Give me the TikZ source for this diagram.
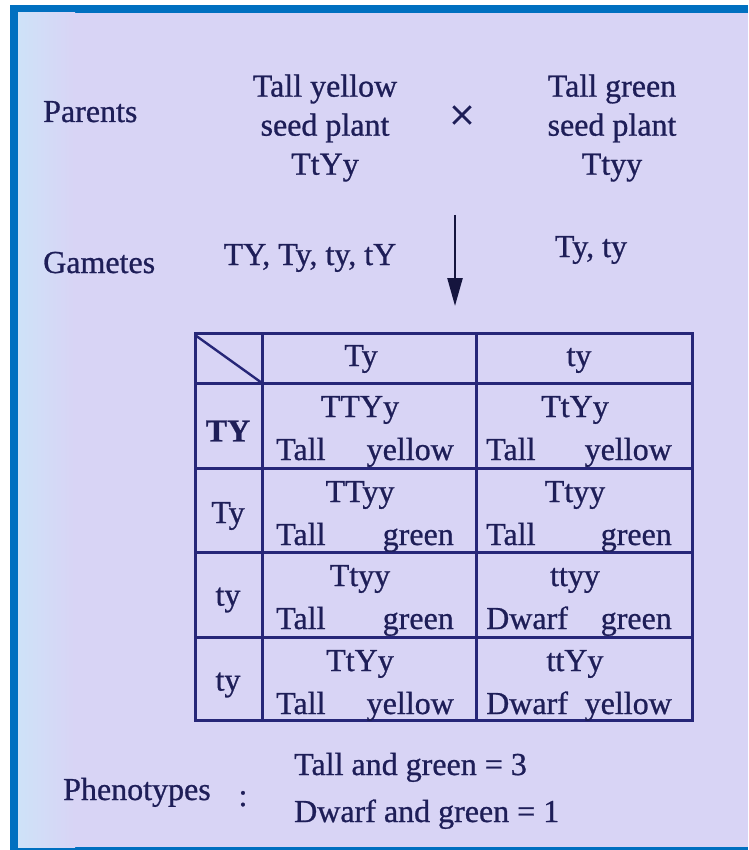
\documentclass[tikz,border=0pt]{standalone}
\usepackage{fontspec}
\setmainfont{Liberation Serif}[FakeBold=0.8]
\usetikzlibrary{arrows.meta, positioning}
\definecolor{slidebg}{RGB}{216,212,245}
\definecolor{slideleft}{RGB}{206,226,248}
\definecolor{slideframe}{RGB}{0,112,192}
\definecolor{inkblue}{RGB}{30,30,88}
\definecolor{gridblue}{RGB}{38,38,120}

\begin{document}
\begin{tikzpicture}[x=1pt, y=-1pt,
  every node/.style={font=\fontsize{32}{39}\selectfont, text=inkblue, inner sep=0pt},
  punnett/.style={draw=gridblue, line width=3pt}]
  % slide background
  \useasboundingbox (0,0) rectangle (748,850);
  \fill[white] (0,0) rectangle (748,850);
  \fill[slideframe] (10,5) rectangle (748,850);
  \fill[slidebg] (18,13) rectangle (748,847);
  \shade[left color=slideleft, right color=slidebg] (18,13) rectangle (75,847);

  % parents
  \node[anchor=base west] (parents) at (43,122) {Parents};
  \node[align=center] (yellowparent) at (325,128) {Tall yellow\\seed plant\\TtYy};
  \node[font=\fontsize{46}{46}\selectfont] (cross) at (462,118) {×};
  \node[align=center] (greenparent) at (612,128) {Tall green\\seed plant\\Ttyy};

  % gametes
  \node[anchor=base west] (gametes) at (43,273) {Gametes};
  \node[anchor=base] (gamyellow) at (310,265) {TY, Ty, ty, tY};
  \node[anchor=base] (gamgreen) at (591,257) {Ty, ty};
  \coordinate (arrtop) at (455,215);
  \coordinate (arrbot) at (455,306);
  \draw[-{Triangle[length=28pt,width=15pt]}, line width=2.4pt, inkblue!70!black] (arrtop) -- (arrbot);

  % checkerboard
  \draw[punnett] (195,333) rectangle (692,720);
  \draw[punnett] (262,333) -- (262,720);
  \draw[punnett] (476,333) -- (476,720);
  \foreach \y in {383,468,552,637}
    \draw[punnett] (195,\y) -- (692,\y);
  \draw[gridblue, line width=2.4pt] (195,335) -- (262,383);
  \node[anchor=base] (headTy) at (361,366) {Ty};
  \node[anchor=base] (headty) at (579,366) {ty};

  \foreach \n/\yt/\lab/\ga/\la/\ra/\gb/\lb/\rb in {
    1/383/{\textbf{TY}}/TTYy/Tall/yellow/TtYy/Tall/yellow,
    2/468/Ty/TTyy/Tall/green/Ttyy/Tall/green,
    3/552/ty/Ttyy/Tall/green/ttyy/Dwarf/green,
    4/637/ty/TtYy/Tall/yellow/ttYy/Dwarf/yellow}{
    \node (lab\n) at (228,\yt+48) {\lab};
    \node[anchor=base] (ga\n) at (360,\yt+34) {\ga};
    \node[anchor=base west] (la\n) at (276,\yt+77) {\la};
    \node[anchor=base east] (ra\n) at (454,\yt+77) {\ra};
    \node[anchor=base] (gb\n) at (575,\yt+34) {\gb};
    \node[anchor=base west] (lb\n) at (486,\yt+77) {\lb};
    \node[anchor=base east] (rb\n) at (672,\yt+77) {\rb};
  }

  % phenotypes
  \node[anchor=base west] (pheno) at (63,800) {Phenotypes};
  \node[anchor=base] (colon) at (243,806) {:};
  \node[anchor=base west] (tallgreen) at (294,775) {Tall and green = 3};
  \node[anchor=base west] (dwarfgreen) at (294,822) {Dwarf and green = 1};
\end{tikzpicture}
\end{document}
